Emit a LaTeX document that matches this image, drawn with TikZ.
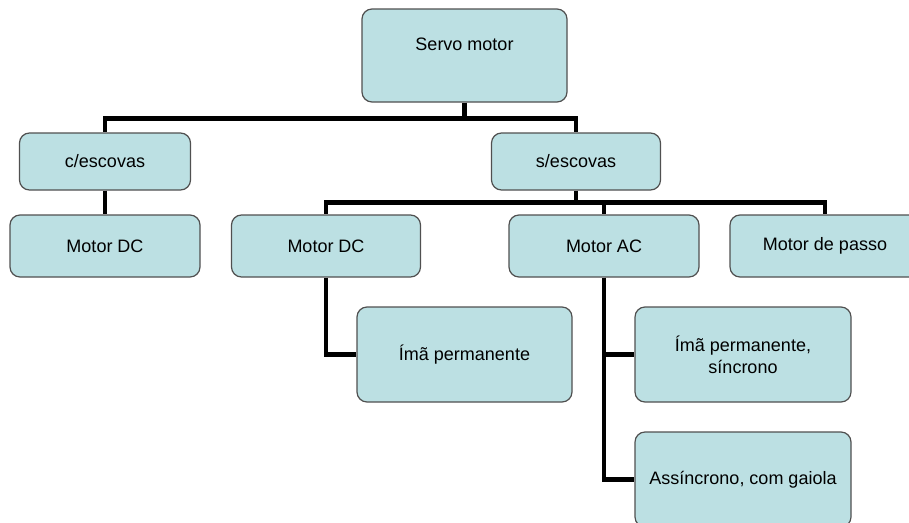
\documentclass[tikz,border=0pt]{standalone}
\usepackage{fontspec}
\setmainfont{Liberation Sans}
\definecolor{boxfill}{HTML}{BCE0E3}
\definecolor{boxline}{HTML}{505050}
\begin{document}
\begin{tikzpicture}[x=1pt,y=-1pt,
  box/.style={draw=boxline, line width=1.2pt, fill=boxfill, rounded corners=10pt,
    align=center, inner sep=0pt, font=\fontsize{18}{22}\selectfont},
  conn/.style={line width=4.5pt, black}]
\useasboundingbox (0,0) rectangle (909,522);
\node[box, minimum width=205pt, minimum height=93pt] (servo) at (464.5,55.5) {Servo motor\\ \mbox{}};
\node[box, minimum width=171pt, minimum height=57pt] (cesc) at (105,161.5) {c/escovas};
\node[box, minimum width=169pt, minimum height=57pt] (sesc) at (576,161.5) {s/escovas};
\node[box, minimum width=190pt, minimum height=62pt] (dcl) at (105,246) {Motor DC};
\node[box, minimum width=189pt, minimum height=62pt] (dcm) at (326,246) {Motor DC};
\node[box, minimum width=190pt, minimum height=62pt] (ac) at (604,246) {Motor AC};
\node[box, minimum width=190pt, minimum height=62pt] (pas) at (825,246) {Motor de passo};
\node[box, minimum width=215pt, minimum height=95pt] (ima) at (464.5,354.5) {Ímã permanente};
\node[box, minimum width=216pt, minimum height=95pt] (sinc) at (743,354.5) {Ímã permanente,\\síncrono};
\node[box, minimum width=216pt, minimum height=95pt] (assinc) at (743,479.5) {Assíncrono, com gaiola};
\draw[conn] (servo.south) -- ++(0,16) -| (cesc.north);
\draw[conn] (servo.south) ++(0,16) -| (sesc.north);
\draw[conn] (cesc.south) -- (dcl.north);
\draw[conn] (sesc.south) -- ++(0,12) -| (dcm.north);
\draw[conn] (sesc.south) ++(0,12) -| (ac.north);
\draw[conn] (sesc.south) ++(0,12) -| (pas.north);
\draw[conn] (dcm.south) |- (ima.west);
\draw[conn] (ac.south) |- (sinc.west);
\draw[conn] (ac.south) |- (assinc.west);
\end{tikzpicture}
\end{document}
